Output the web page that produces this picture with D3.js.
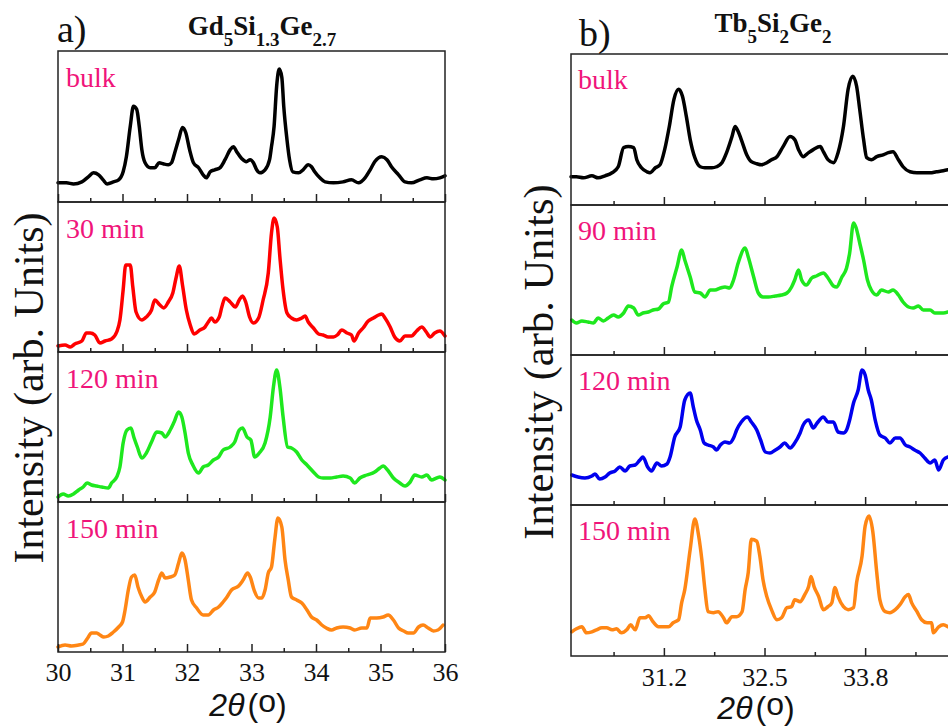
<!DOCTYPE html>
<meta charset="utf-8">
<head>
    <script type="text/javascript" src="https://cdn.jsdelivr.net/npm/d3@7/dist/d3.min.js"></script>
    <style>
        body { margin: 0; background: #fff; }
    </style>
    <title>XRD patterns</title>
</head>
<body>
<script>
    // ---- data: 2theta (deg), intensity (arb. units) ----
    // panel a) Gd5Si1.3Ge2.7
    var gdBulk = [[30.00,19],[30.13,19],[30.24,18],[30.37,20],[30.47,25],[30.55,29],[30.63,27],[30.70,22],[30.76,18],[30.86,20],
        [30.94,22],[31.01,30],[31.06,45],[31.12,75],[31.17,95],[31.22,92],[31.26,75],[31.30,52],[31.35,39],[31.43,34],
        [31.50,34],[31.57,39],[31.63,38],[31.71,37],[31.76,39],[31.81,49],[31.87,62],[31.93,74],[31.98,69],[32.04,52],
        [32.10,39],[32.18,34],[32.25,27],[32.30,24],[32.36,30],[32.43,32],[32.51,34],[32.59,42],[32.67,52],[32.72,55],
        [32.77,50],[32.85,43],[32.92,40],[32.98,42],[33.03,39],[33.08,32],[33.13,29],[33.21,32],[33.28,42],[33.31,55],
        [33.35,75],[33.39,115],[33.43,132],[33.47,124],[33.50,95],[33.55,62],[33.59,42],[33.64,30],[33.73,29],[33.80,32],
        [33.88,37],[33.93,35],[33.98,30],[34.06,24],[34.14,20],[34.27,19],[34.42,20],[34.55,22],[34.66,19],[34.76,24],
        [34.84,32],[34.91,40],[35.02,45],[35.10,42],[35.17,35],[35.28,27],[35.38,20],[35.48,19],[35.61,22],[35.72,24],
        [35.82,23],[35.92,24],[36.00,26]];
    var gd30 = [[30.00,6],[30.11,7],[30.19,5],[30.26,8],[30.37,11],[30.44,19],[30.50,19],[30.57,17],[30.65,9],[30.73,11],
        [30.83,13],[30.91,20],[30.96,32],[31.01,62],[31.05,87],[31.12,87],[31.16,65],[31.21,40],[31.30,32],[31.37,35],
        [31.45,42],[31.50,52],[31.58,47],[31.64,44],[31.71,50],[31.78,59],[31.83,74],[31.88,86],[31.93,67],[31.99,42],
        [32.05,27],[32.11,18],[32.20,22],[32.28,25],[32.33,30],[32.38,34],[32.43,30],[32.50,35],[32.54,45],[32.59,54],
        [32.67,50],[32.75,45],[32.81,52],[32.86,56],[32.91,50],[32.97,35],[33.03,29],[33.11,34],[33.18,52],[33.26,79],
        [33.31,119],[33.35,134],[33.40,125],[33.44,95],[33.49,62],[33.55,39],[33.62,34],[33.70,32],[33.78,34],[33.83,36],
        [33.88,30],[33.96,24],[34.04,18],[34.11,17],[34.19,15],[34.27,15],[34.33,17],[34.40,22],[34.48,19],[34.55,17],
        [34.59,11],[34.66,19],[34.73,24],[34.81,31],[34.89,34],[34.97,37],[35.02,38],[35.07,34],[35.15,25],[35.22,15],
        [35.30,11],[35.38,16],[35.48,16],[35.56,21],[35.64,25],[35.71,20],[35.77,15],[35.84,19],[35.92,21],[36.00,16]];
    var gd120 = [[30.00,5],[30.08,8],[30.16,6],[30.24,8],[30.32,12],[30.39,15],[30.45,19],[30.52,17],[30.60,16],[30.68,15],
        [30.78,14],[30.83,19],[30.91,25],[30.96,35],[31.01,59],[31.07,72],[31.13,74],[31.18,64],[31.23,55],[31.30,44],
        [31.37,49],[31.45,60],[31.53,70],[31.61,69],[31.66,65],[31.74,72],[31.80,80],[31.87,90],[31.92,85],[31.97,69],
        [32.02,49],[32.09,37],[32.18,29],[32.25,35],[32.33,37],[32.41,42],[32.49,45],[32.56,52],[32.67,55],[32.74,60],
        [32.81,72],[32.86,74],[32.93,65],[32.99,62],[33.05,45],[33.12,49],[33.21,59],[33.29,85],[33.34,115],[33.39,132],
        [33.44,115],[33.49,85],[33.56,55],[33.62,54],[33.70,50],[33.78,42],[33.86,37],[33.96,30],[34.04,25],[34.11,24],
        [34.22,24],[34.32,25],[34.42,26],[34.53,24],[34.60,19],[34.68,24],[34.79,27],[34.91,30],[34.99,34],[35.04,36],
        [35.11,32],[35.20,24],[35.30,19],[35.38,16],[35.46,20],[35.53,27],[35.64,25],[35.72,27],[35.79,22],[35.87,24],
        [35.92,25],[36.00,22]];
    var gd150 = [[30.00,5],[30.11,7],[30.21,6],[30.32,7],[30.39,8],[30.45,13],[30.52,19],[30.60,19],[30.65,17],[30.71,15],
        [30.78,16],[30.86,20],[30.94,25],[31.00,30],[31.04,42],[31.09,62],[31.14,75],[31.19,77],[31.24,65],[31.30,55],
        [31.35,50],[31.43,55],[31.50,60],[31.56,72],[31.61,79],[31.66,74],[31.74,75],[31.81,77],[31.87,89],[31.92,99],
        [31.97,92],[32.02,72],[32.07,52],[32.15,44],[32.25,37],[32.33,37],[32.41,42],[32.49,45],[32.56,50],[32.62,55],
        [32.69,62],[32.80,66],[32.87,72],[32.94,79],[32.98,75],[33.04,62],[33.11,54],[33.16,54],[33.21,62],[33.26,79],
        [33.31,85],[33.36,112],[33.41,134],[33.47,125],[33.52,92],[33.57,72],[33.62,55],[33.70,52],[33.78,49],[33.86,42],
        [33.93,35],[34.01,32],[34.09,27],[34.16,24],[34.24,22],[34.32,24],[34.42,25],[34.53,24],[34.60,22],[34.71,24],
        [34.79,24],[34.84,34],[34.94,34],[35.04,35],[35.12,37],[35.20,32],[35.28,24],[35.36,21],[35.43,19],[35.51,19],
        [35.59,25],[35.66,27],[35.74,24],[35.82,21],[35.89,22],[35.97,27]];

    // panel b) Tb5Si2Ge2
    var tbBulk = [[30.00,28],[30.07,28],[30.16,27],[30.27,29],[30.35,27],[30.44,29],[30.53,32],[30.61,38],[30.68,57],[30.74,58],
        [30.81,57],[30.85,45],[30.91,37],[30.98,33],[31.02,32],[31.09,37],[31.15,40],[31.21,55],[31.27,78],[31.33,105],
        [31.39,115],[31.44,108],[31.49,88],[31.54,65],[31.60,47],[31.67,38],[31.73,37],[31.82,37],[31.88,38],[31.95,42],
        [32.01,52],[32.08,68],[32.12,78],[32.16,73],[32.20,65],[32.27,50],[32.33,43],[32.40,41],[32.46,40],[32.53,42],
        [32.59,45],[32.66,48],[32.74,58],[32.83,68],[32.89,65],[32.94,55],[33.00,48],[33.07,52],[33.13,55],[33.22,58],
        [33.26,53],[33.32,45],[33.39,42],[33.45,52],[33.52,78],[33.58,115],[33.64,128],[33.69,118],[33.73,95],[33.78,65],
        [33.82,47],[33.88,45],[33.95,48],[34.04,50],[34.10,52],[34.16,53],[34.23,45],[34.29,38],[34.38,33],[34.47,32],
        [34.55,32],[34.64,32],[34.72,33],[34.81,34],[34.87,35]];
    var tb90 = [[30.01,35],[30.07,32],[30.14,34],[30.22,33],[30.29,32],[30.35,37],[30.42,34],[30.48,37],[30.55,40],[30.61,38],
        [30.68,42],[30.74,49],[30.81,47],[30.87,40],[30.93,42],[31.00,43],[31.06,45],[31.13,46],[31.19,51],[31.26,53],
        [31.30,68],[31.37,88],[31.43,105],[31.47,95],[31.54,78],[31.60,63],[31.67,62],[31.73,58],[31.80,65],[31.86,65],
        [31.93,67],[31.99,68],[32.05,67],[32.10,75],[32.16,92],[32.25,107],[32.29,98],[32.36,78],[32.42,62],[32.48,58],
        [32.55,58],[32.64,59],[32.72,60],[32.79,62],[32.85,68],[32.89,75],[32.94,85],[32.98,75],[33.04,70],[33.11,77],
        [33.17,79],[33.26,82],[33.32,77],[33.39,69],[33.43,68],[33.50,78],[33.56,87],[33.60,102],[33.65,132],[33.68,128],
        [33.73,112],[33.78,95],[33.83,75],[33.88,65],[33.95,60],[34.01,65],[34.10,63],[34.16,65],[34.23,60],[34.29,53],
        [34.36,48],[34.42,47],[34.49,49],[34.55,45],[34.64,45],[34.70,42],[34.77,42],[34.81,42],[34.87,43]];
    var tb120 = [[30.01,30],[30.09,28],[30.18,27],[30.27,29],[30.31,31],[30.37,26],[30.44,28],[30.50,32],[30.57,34],[30.63,38],
        [30.70,34],[30.76,39],[30.83,40],[30.89,45],[30.93,48],[30.99,38],[31.04,34],[31.11,42],[31.17,39],[31.24,41],
        [31.28,48],[31.34,68],[31.41,78],[31.47,105],[31.54,112],[31.58,98],[31.62,85],[31.67,75],[31.72,62],[31.77,60],
        [31.84,58],[31.88,55],[31.93,60],[31.99,63],[32.05,62],[32.10,67],[32.14,75],[32.20,83],[32.28,88],[32.33,83],
        [32.40,75],[32.45,65],[32.51,53],[32.57,52],[32.64,55],[32.70,58],[32.76,62],[32.83,57],[32.89,62],[32.96,72],
        [33.00,80],[33.07,85],[33.13,77],[33.18,82],[33.26,88],[33.32,83],[33.39,83],[33.45,73],[33.52,72],[33.56,75],
        [33.60,85],[33.65,102],[33.71,115],[33.76,135],[33.80,130],[33.84,115],[33.88,105],[33.93,85],[33.99,70],[34.06,67],
        [34.12,62],[34.19,67],[34.25,67],[34.32,60],[34.38,58],[34.44,55],[34.51,52],[34.57,47],[34.64,42],[34.70,45],
        [34.75,35],[34.81,45],[34.87,48]];
    var tb150 = [[30.01,24],[30.07,27],[30.14,29],[30.20,23],[30.27,24],[30.33,26],[30.40,28],[30.46,28],[30.53,26],[30.59,27],
        [30.65,23],[30.72,26],[30.77,31],[30.83,26],[30.89,38],[30.96,38],[31.00,40],[31.06,34],[31.13,29],[31.19,29],
        [31.26,29],[31.32,33],[31.39,36],[31.43,53],[31.47,66],[31.54,106],[31.60,136],[31.65,119],[31.69,96],[31.73,66],
        [31.77,44],[31.84,43],[31.90,44],[31.97,38],[32.01,33],[32.08,39],[32.14,39],[32.21,44],[32.25,66],[32.29,83],
        [32.33,116],[32.40,114],[32.44,99],[32.48,76],[32.53,59],[32.59,46],[32.66,36],[32.72,38],[32.79,48],[32.85,49],
        [32.89,56],[32.96,54],[33.02,61],[33.07,69],[33.10,79],[33.14,69],[33.20,59],[33.26,46],[33.32,49],[33.37,53],
        [33.41,68],[33.45,59],[33.52,49],[33.58,46],[33.65,48],[33.69,73],[33.76,99],[33.80,129],[33.85,139],[33.90,123],
        [33.95,83],[33.99,56],[34.06,44],[34.12,43],[34.19,46],[34.25,51],[34.32,59],[34.36,61],[34.40,53],[34.47,44],
        [34.53,36],[34.60,33],[34.66,33],[34.68,23],[34.75,29],[34.81,31],[34.87,29]];

    var labelsA = ["bulk", "30 min", "120 min", "150 min"];
    var labelsB = ["bulk", "90 min", "120 min", "150 min"];
    var ticksA = [30, 31, 32, 33, 34, 35, 36];
    var minorA = [30.5, 31.5, 32.5, 33.5, 34.5, 35.5];
    var ticksB = [31.2, 32.5, 33.8];
    var minorB = [30.55, 31.85, 33.15, 34.45];

    // ---- layout ----
    var width = 948, height = 727;
    var svg = d3.select("body").append("svg")
        .attr("width", width)
        .attr("height", height);

    var pink = "#f0147a";
    var serifFont = "'Liberation Serif', 'Times New Roman', serif";
    var sansFont = "'Liberation Sans', Arial, sans-serif";

    var panelA = {
        x: d3.scaleLinear().domain([30, 36]).range([58, 445]),
        tops: [51, 202, 352, 502], bottom: 652,
        series: [gdBulk, gd30, gd120, gd150],
        colors: ["#000000", "#ff0000", "#1ee81e", "#ff8614"],
        labels: labelsA, labelDy: 36, labelX: 66,
        ticks: ticksA, minor: minorA, fmt: d3.format("d"), tickPad: 11
    };
    var panelB = {
        x: d3.scaleLinear().domain([30, 35.2]).range([571, 973.5]),
        tops: [54, 205, 355, 505], bottom: 656,
        series: [tbBulk, tb90, tb120, tb150],
        colors: ["#000000", "#1ee81e", "#0000ee", "#ff8614"],
        labels: labelsB, labelDy: 35, labelX: 578,
        ticks: ticksB, minor: minorB, fmt: d3.format(".1f"), tickPad: 12
    };

    function drawPanel(p) {
        var g = svg.append("g");
        p.tops.forEach(function (top, i) {
            var bot = i < 3 ? p.tops[i + 1] : p.bottom;
            var y = d3.scaleLinear().domain([0, 150]).range([bot, top]);
            var last = (i === 3);

            var line = d3.line()
                .curve(d3.curveMonotoneX)
                .x(function (d) { return p.x(d[0]); })
                .y(function (d) { return y(d[1]); });

            g.append("path")
                .datum(p.series[i])
                .attr("d", line)
                .attr("fill", "none")
                .attr("stroke", p.colors[i])
                .attr("stroke-width", 3.5)
                .attr("stroke-linejoin", "round")
                .attr("stroke-linecap", "round");

            // inward ticks on the bottom edge of each panel
            var major = d3.axisBottom(p.x).tickValues(p.ticks).tickSize(-8)
                .tickPadding(p.tickPad)
                .tickFormat(last ? p.fmt : "");
            var ax = g.append("g").attr("transform", "translate(0," + bot + ")").call(major);
            ax.attr("font-family", null).attr("font-size", null);
            ax.select(".domain").remove();
            ax.selectAll(".tick line").attr("stroke", "#222").attr("stroke-width", 1.5);
            ax.selectAll("text")
                .style("font-family", serifFont)
                .style("font-size", "26px")
                .attr("fill", "#111");
            var minor = d3.axisBottom(p.x).tickValues(p.minor).tickSize(-4).tickFormat("");
            var ax2 = g.append("g").attr("transform", "translate(0," + bot + ")").call(minor);
            ax2.select(".domain").remove();
            ax2.selectAll(".tick line").attr("stroke", "#222").attr("stroke-width", 1.5);

            g.append("rect")
                .attr("x", p.x.range()[0]).attr("y", top)
                .attr("width", p.x.range()[1] - p.x.range()[0])
                .attr("height", bot - top)
                .attr("fill", "none").attr("stroke", "#222").attr("stroke-width", 1.5);

            g.append("text")
                .style("font-family", serifFont)
                .attr("x", p.labelX).attr("y", top + p.labelDy)
                .attr("font-size", 28)
                .attr("fill", pink)
                .text(p.labels[i]);
        });
    }

    drawPanel(panelA);
    drawPanel(panelB);

    // titles with subscripts
    function formula(x, y, parts) {
        var t = svg.append("text")
            .style("font-family", serifFont)
            .attr("x", x).attr("y", y)
            .attr("text-anchor", "middle")
            .attr("font-weight", "bold").attr("font-size", 27).attr("fill", "#111");
        var sub = false;
        parts.forEach(function (s, k) {
            var isSub = k % 2 === 1;
            t.append("tspan")
                .attr("dy", isSub === sub ? 0 : (isSub ? 11 : -11))
                .attr("font-size", isSub ? 19 : 27)
                .text(s);
            sub = isSub;
        });
    }
    formula(262, 35, ["Gd", "5", "Si", "1.3", "Ge", "2.7"]);
    formula(773, 32, ["Tb", "5", "Si", "2", "Ge", "2"]);

    svg.append("text").style("font-family", serifFont).attr("x", 57).attr("y", 42)
        .attr("font-size", 38).attr("fill", "#111").text("a)");
    svg.append("text").style("font-family", serifFont).attr("x", 579).attr("y", 46)
        .attr("font-size", 38).attr("fill", "#111").text("b)");

    // y labels
    function ylabel(x, y, size) {
        svg.append("text").style("font-family", serifFont)
            .attr("transform", "translate(" + x + "," + y + ") rotate(-90)")
            .attr("text-anchor", "middle")
            .attr("font-size", size).attr("fill", "#111")
            .text("Intensity (arb. Units)");
    }
    ylabel(43, 388, 42);
    ylabel(553, 362, 42.5);

    // x labels
    function xlabel(x, y) {
        var t = svg.append("text").style("font-family", sansFont)
            .attr("x", x).attr("y", y)
            .attr("text-anchor", "middle")
            .attr("font-size", 32).attr("fill", "#111");
        t.append("tspan").attr("font-style", "italic").text("2\u03b8");
        t.append("tspan").attr("dx", 3).text("(");
        t.append("tspan").attr("dy", -4).text("o");
        t.append("tspan").attr("dy", 4).text(")");
    }
    xlabel(248, 716);
    xlabel(756, 719);
</script>
</body>
